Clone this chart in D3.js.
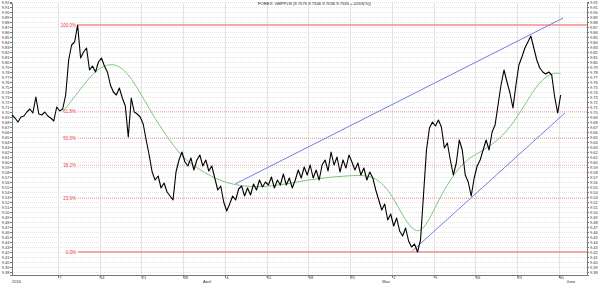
<!DOCTYPE html>
<html>
<head>
<meta charset="utf-8">
<script src="https://cdn.jsdelivr.net/npm/d3@7"></script>
<style>
  body { margin: 0; background: #fff; }
  text { font-family: "Liberation Sans", Arial, sans-serif; }
</style>
</head>
<body>
<svg id="chart"></svg>
<script>
// GBP/PLN, one sample every 12 hours
const startTime = new Date(2016, 1, 28, 7);
const stepHours = 12;
const prices = [
  9.694, 9.688, 9.680, 9.690, 9.692, 9.700, 9.706, 9.698, 9.730, 9.696,
  9.694, 9.700, 9.692, 9.688, 9.682, 9.710, 9.702, 9.706, 9.734, 9.804,
  9.834, 9.840, 9.874, 9.808, 9.820, 9.828, 9.784, 9.792, 9.780, 9.800,
  9.808, 9.792, 9.780, 9.754, 9.740, 9.734, 9.748, 9.728, 9.712, 9.650,
  9.728, 9.700, 9.696, 9.690, 9.676, 9.644, 9.614, 9.580, 9.564, 9.572,
  9.548, 9.558, 9.540, 9.532, 9.524, 9.580, 9.604, 9.620, 9.600, 9.592,
  9.608, 9.584, 9.604, 9.614, 9.592, 9.604, 9.582, 9.592, 9.568, 9.544,
  9.552, 9.520, 9.502, 9.516, 9.532, 9.524, 9.546, 9.552, 9.532, 9.548,
  9.534, 9.556, 9.544, 9.564, 9.550, 9.560, 9.554, 9.570, 9.548, 9.564,
  9.554, 9.576, 9.554, 9.568, 9.548, 9.564, 9.584, 9.568, 9.590, 9.574,
  9.594, 9.568, 9.584, 9.564, 9.594, 9.604, 9.582, 9.620, 9.594, 9.610,
  9.580, 9.604, 9.588, 9.614, 9.600, 9.584, 9.598, 9.574, 9.588, 9.564,
  9.580, 9.568, 9.544, 9.524, 9.504, 9.516, 9.484, 9.496, 9.472, 9.488,
  9.462, 9.452, 9.468, 9.442, 9.430, 9.436, 9.420, 9.444, 9.534, 9.624,
  9.668, 9.680, 9.672, 9.684, 9.670, 9.628, 9.638, 9.604, 9.574, 9.598,
  9.644, 9.624, 9.574, 9.560, 9.532, 9.568, 9.592, 9.604, 9.624, 9.644,
  9.624, 9.660, 9.674, 9.714, 9.754, 9.784, 9.760, 9.738, 9.708, 9.754,
  9.794, 9.810, 9.828, 9.840, 9.852, 9.828, 9.804, 9.788, 9.780, 9.776,
  9.780, 9.774, 9.730, 9.698, 9.734
];

// moving average, read at some of the sample positions
const maIndex = [17, 22, 27, 32, 37, 42, 47, 52, 57, 62, 67, 72, 77, 82, 87, 92, 97,
  102, 107, 112, 117, 122, 127, 132, 137, 142, 147, 152, 157, 162, 167, 172, 177, 182, 184];
const maValues = [
  9.700, 9.738, 9.778, 9.798, 9.792, 9.750, 9.696, 9.650, 9.610, 9.588,
  9.570, 9.558, 9.552, 9.550, 9.552, 9.556, 9.562, 9.566, 9.570, 9.572,
  9.574, 9.570, 9.540, 9.480, 9.448, 9.512, 9.566, 9.604, 9.620, 9.638,
  9.668, 9.714, 9.764, 9.780, 9.776
];

// retracement between the March high and the May low
const fibHigh = 9.874;
const fibLow = 9.42;
const fibLevels = [100, 61.8, 50, 38.2, 23.6, 0];

// trend lines (start, end)
const trendUpper = [["2016-04-05T17:00", 9.556], ["2016-05-30T17:00", 9.888]];
const trendLower = [["2016-05-05T10:00", 9.422], ["2016-05-31T00:00", 9.698]];

const monthLabels = [["2016", "2016-02-28T07:00"], ["April", "2016-04-01T00:00"],
  ["May", "2016-05-01T00:00"], ["June", "2016-06-01T00:00"]];
const title = "FOREX: GBPPLN (9.7075 9.7346 9.7036 9.7335 +.0263(%))";

const W = 600, H = 283;
const m = { left: 12, right: 587, top: 3, bottom: 275 };

const svg = d3.select('#chart').attr('width', W).attr('height', H);

const x = d3.scaleTime()
  .domain([new Date(2016, 1, 28, 7), new Date(2016, 5, 3, 17)])
  .range([m.left, m.right]);
const y = d3.scaleLinear()
  .domain([9.374, 9.918])
  .range([m.bottom, m.top]);

const sampleTime = i => new Date(startTime.getTime() + i * stepHours * 3600e3);
const priceData = prices.map((v, i) => ({ t: sampleTime(i), v: v }));
const maData = maIndex.map((k, j) => ({ t: sampleTime(k), v: maValues[j] }));

const yTicks = d3.range(938, 993).map(d => d / 100);
const weekTicks = d3.timeMonday.range(new Date(2016, 2, 7), new Date(2016, 5, 1));

// grid
svg.append('g').selectAll('line').data(yTicks).join('line')
  .attr('x1', m.left).attr('x2', m.right)
  .attr('y1', d => Math.round(y(d)) + 0.5).attr('y2', d => Math.round(y(d)) + 0.5)
  .attr('stroke', '#e6e6e6').attr('stroke-dasharray', '1,1');
svg.append('g').selectAll('line').data(weekTicks).join('line')
  .attr('x1', d => Math.round(x(d)) + 0.5).attr('x2', d => Math.round(x(d)) + 0.5)
  .attr('y1', m.top).attr('y2', m.bottom)
  .attr('stroke', '#e2e2e2');

// axes
const yLeft = svg.append('g').attr('transform', `translate(${m.left},0)`)
  .call(d3.axisLeft(y).tickValues(yTicks).tickSize(2).tickFormat(d3.format('.2f')));
const yRight = svg.append('g').attr('transform', `translate(${m.right},0)`)
  .call(d3.axisRight(y).tickValues(yTicks).tickSize(2).tickFormat(d3.format('.2f')));
const xAxis = svg.append('g').attr('transform', `translate(0,${m.bottom})`)
  .call(d3.axisBottom(x).tickValues(weekTicks).tickSize(3).tickFormat(d3.timeFormat('%-d')));
[yLeft, yRight, xAxis].forEach(g => {
  g.selectAll('path, line').attr('stroke', '#777');
  g.selectAll('text').attr('font-size', 4).attr('fill', '#333');
});
yLeft.selectAll('text').attr('x', -2.5);
yRight.selectAll('text').attr('x', 3);
xAxis.selectAll('text').attr('y', 1).attr('dx', 2);
xAxis.select('.domain').attr('d', `M${m.left},0.5H${m.right}`);

svg.append('g').selectAll('text').data(monthLabels).join('text')
  .attr('x', d => x(new Date(d[1])))
  .attr('y', 282.5)
  .attr('text-anchor', (d, i) => i === 0 ? 'start' : 'middle')
  .attr('font-size', 4).attr('fill', '#333')
  .text(d => d[0]);

// fibonacci levels
const fibY = l => y(fibLow + (fibHigh - fibLow) * l / 100);
const fib = svg.append('g');
fib.selectAll('line').data(fibLevels).join('line')
  .attr('x1', 78).attr('x2', m.right)
  .attr('y1', fibY).attr('y2', fibY)
  .attr('stroke', d => (d === 0 || d === 100) ? '#f28c8c' : '#f5a3a3')
  .attr('stroke-width', d => (d === 0 || d === 100) ? 1.5 : 1)
  .attr('stroke-dasharray', d => (d === 0 || d === 100) ? null : '1,1');
fib.selectAll('text').data(fibLevels).join('text')
  .attr('x', 76).attr('y', d => fibY(d) + 1.5)
  .attr('text-anchor', 'end')
  .attr('font-size', 4.5).attr('fill', '#f03c3c')
  .text(d => d3.format('.1f')(d) + '%');

// trend lines
[trendUpper, trendLower].forEach(tl => {
  svg.append('line')
    .attr('x1', x(new Date(tl[0][0]))).attr('y1', y(tl[0][1]))
    .attr('x2', x(new Date(tl[1][0]))).attr('y2', y(tl[1][1]))
    .attr('stroke', '#7b7be0').attr('stroke-width', 1);
});

// moving average
svg.append('path').datum(maData)
  .attr('d', d3.line().x(d => x(d.t)).y(d => y(d.v)).curve(d3.curveBasis))
  .attr('fill', 'none').attr('stroke', '#7cc87c').attr('stroke-width', 1);

// price
svg.append('path').datum(priceData)
  .attr('d', d3.line().x(d => x(d.t)).y(d => y(d.v)))
  .attr('fill', 'none').attr('stroke', '#000').attr('stroke-width', 1.1)
  .attr('stroke-linejoin', 'round');

svg.append('text')
  .attr('x', 258).attr('y', 5)
  .attr('font-size', 4.2).attr('fill', '#222')
  .text(title);
</script>
</body>
</html>
